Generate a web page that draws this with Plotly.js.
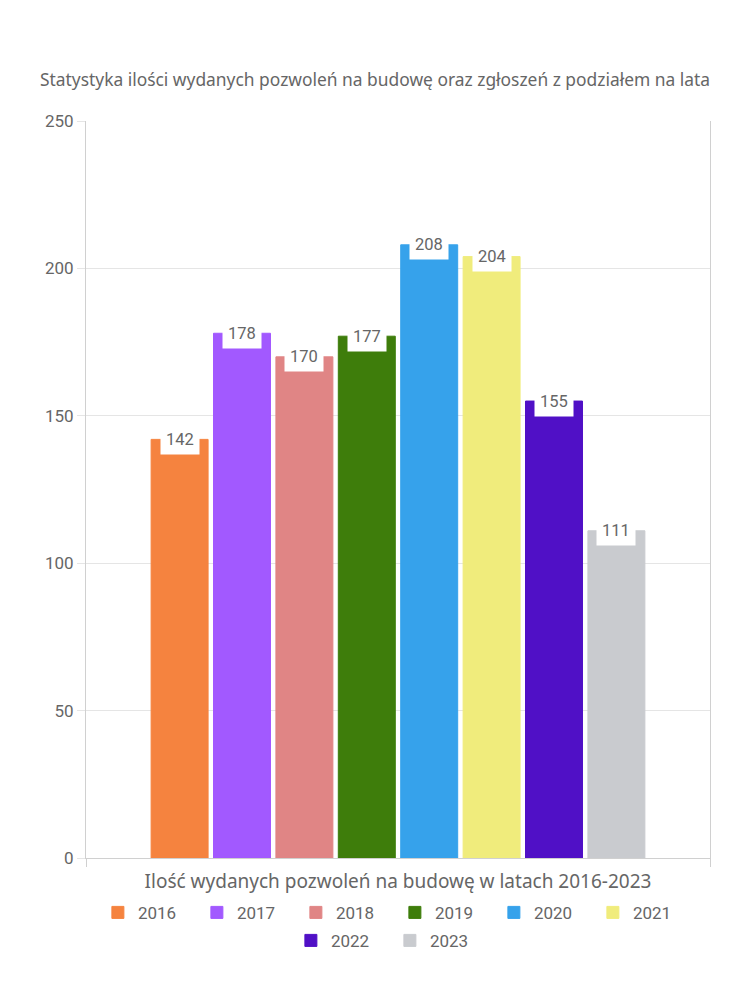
<!DOCTYPE html>
<html>
<head>
<meta charset="utf-8">
<script src="https://cdn.plot.ly/plotly-3.0.1.min.js"></script>
<style>html,body{margin:0;padding:0;background:#fff;}#chart{width:750px;height:1000px;}</style>
</head>
<body>
<div id="chart"></div>
<script>
const years = ['2016','2017','2018','2019','2020','2021','2022','2023'];
const values = [142, 178, 170, 177, 208, 204, 155, 111];
const colors = ['#F5833F','#A259FF','#E08585','#3E7D0B','#36A2EB','#F0EC7C','#5010C6','#C9CBCF'];
const yTicks = [0, 50, 100, 150, 200, 250];
const chartTitle = 'Statystyka ilości wydanych pozwoleń na budowę oraz zgłoszeń z podziałem na lata';
const xTitle = 'Ilość wydanych pozwoleń na budowę w latach 2016-2023';

const traces = years.map((y, i) => ({
  type: 'bar',
  name: y,
  x: [i],
  y: [values[i]],
  legend: i < 6 ? 'legend' : 'legend2',
  marker: {color: colors[i], line: {color: colors[i], width: 1}},
  hoverinfo: 'name+y'
}));

const annotations = years.map((y, i) => ({
  x: i, y: values[i], xref: 'x', yref: 'y',
  text: String(values[i]),
  showarrow: false,
  bgcolor: '#ffffff',
  borderpad: 5,
  font: {family: 'Roboto, sans-serif', size: 16.5, color: '#666'},
  xanchor: 'center', yanchor: 'middle'
}));

const legendBase = {orientation: 'h', xanchor: 'center', yanchor: 'top',
  font: {family: 'Roboto, sans-serif', size: 17, color: '#666'},
  entrywidth: 54, entrywidthmode: 'pixels', itemclick: false, tracegroupgap: 0};

const layout = {
  width: 750, height: 1000,
  margin: {l: 86, r: 40, t: 121, b: 142},
  paper_bgcolor: '#fff', plot_bgcolor: '#fff',
  title: {text: chartTitle, x: 0.5, xanchor: 'center', y: 1 - 80/1000, yanchor: 'middle',
          font: {family: 'Noto Sans, sans-serif', size: 17.4, color: '#666'}},
  barmode: 'overlay',
  bargap: 0.087,
  showlegend: true,
  legend: Object.assign({}, legendBase, {x: 0.495, y: -0.05}),
  legend2: Object.assign({}, legendBase, {x: 0.487, y: -0.088}),
  xaxis: {type: 'linear', range: [-1.5, 8.5], showgrid: false, zeroline: false,
          showline: true, linecolor: '#d0d0d0', linewidth: 1,
          tickmode: 'array', tickvals: [-1.5, 8.5], ticktext: ['', ''], ticks: 'outside',
          ticklen: 8, tickcolor: '#d0d0d0', fixedrange: true,
          title: {text: xTitle, standoff: 6, font: {family: 'Noto Sans, sans-serif', size: 19, color: '#666'}}},
  yaxis: {range: [0, 250], tickmode: 'array', tickvals: yTicks, ticks: 'outside', ticklen: 8,
          tickcolor: '#e5e5e5', gridcolor: '#e5e5e5', showline: true, mirror: true,
          linecolor: '#d0d0d0', zeroline: false, fixedrange: true,
          tickfont: {family: 'Roboto, sans-serif', size: 17, color: '#666'}},
  annotations: annotations
};

Plotly.newPlot('chart', traces, layout, {displayModeBar: false, staticPlot: true});
</script>
</body>
</html>
